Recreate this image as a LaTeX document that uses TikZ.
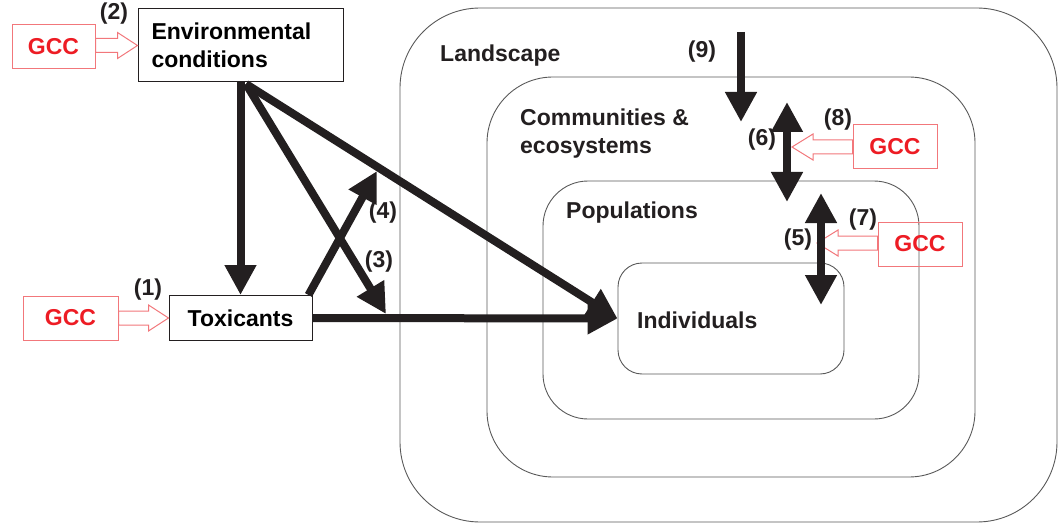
\documentclass[tikz,border=0pt]{standalone}
\usepackage{fontspec}
\setmainfont{Liberation Sans}
\usetikzlibrary{arrows.meta,calc}

\definecolor{ink}{HTML}{231F20}
\definecolor{gccred}{HTML}{ED1C24}
\definecolor{gccedge}{HTML}{F2777B}

\tikzset{
  region/.style={draw=black!65, line width=0.9pt, rounded corners=#1, inner sep=0pt},
  plainbox/.style={draw=ink, line width=1pt, inner sep=0pt},
  gccbox/.style={draw=gccedge, line width=1pt, text=gccred, minimum width=84pt,
    minimum height=44pt, inner sep=0pt},
  gccline/.style={draw=gccedge, fill=white, line width=1pt, line join=miter},
  effect/.style={draw=ink, line width=8pt, -{Triangle[length=30pt,width=30pt]}},
  mutual/.style={effect, {Triangle[length=30pt,width=30pt]}-{Triangle[length=30pt,width=30pt]}},
  tag/.style={text=ink, inner sep=0pt},
}

% hollow GCC arrow: start anchor, tip, offset of the head base
\newcommand{\gccpush}[3]{%
  \draw[gccline] ($(#1 |- #2)+(0,-7)$) -- ($(#2)+(#3,-7)$) -- ($(#2)+(#3,-13)$)
    -- (#2) -- ($(#2)+(#3,13)$) -- ($(#2)+(#3,7)$) -- ($(#1 |- #2)+(0,7)$) -- cycle;}

\begin{document}
\begin{tikzpicture}[x=1pt, y=-1pt, font=\fontsize{23}{28}\selectfont\bfseries]
\useasboundingbox (0,0) rectangle (1058,524);

% nested levels of organisation
\node[region=80pt, minimum width=657pt, minimum height=514pt] (land) at (728.5,265) {};
\node[region=66pt, minimum width=488pt, minimum height=400pt] (comm) at (731,277) {};
\node[region=45pt, minimum width=376pt, minimum height=238pt] (pop) at (731,300) {};
\node[region=24pt, minimum width=226pt, minimum height=111pt] (indiv) at (731,318.5) {};
\node[tag, anchor=west] (landtxt) at (440,56) {Landscape};
\node[tag, anchor=west, align=left] (commtxt) at (520,134) {Communities \&\\ecosystems};
\node[tag, anchor=west] (poptxt) at (566,213) {Populations};
\node[tag, anchor=west] (indivtxt) at (637,320) {Individuals};

% stressors
\node[plainbox, minimum width=205pt, minimum height=73pt, text width=178pt, align=left]
  (env) at (240.5,45.5) {Environmental\\conditions};
\node[plainbox, minimum width=143pt, minimum height=45pt] (tox) at (240.5,318) {Toxicants};

% global climate change inputs
\node[gccbox, minimum width=83pt] (gcc2) at (53.5,46.5) {GCC};
\node[gccbox, minimum width=95pt] (gcc1) at (70.5,318) {GCC};
\node[gccbox] (gcc8) at (895,146.5) {GCC};
\node[gccbox] (gcc7) at (920,244) {GCC};
\coordinate (hit8) at (792,147);
\coordinate (hit7) at (817,243);
\gccpush{gcc2.east}{env.west}{-20}
\gccpush{gcc1.east}{tox.west}{-20}
\gccpush{gcc8.west}{hit8}{21}
\gccpush{gcc7.west}{hit7}{21}

% direct and indirect effects
\coordinate (envfoot) at (246,84);
\coordinate (hit3) at (386,314);
\coordinate (hit4) at (377,171);
\draw[effect] (env.south) -- (tox.north);
\draw[effect] (envfoot) -- (indiv.west);
\draw[effect] (envfoot) -- (hit3);
\draw[effect] ($(tox.north east)+(-4,0)$) -- (hit4);
\draw[effect] (tox.east) -- (indiv.west);

% links between levels
\coordinate (top9) at (741,32);
\coordinate (hit9) at (741,122);
\coordinate (a6) at (787,102);
\coordinate (b6) at (787,202);
\coordinate (a5) at (821,193);
\coordinate (b5) at (821,305);
\draw[effect] (top9) -- (hit9);
\draw[mutual] (a6) -- (b6);
\draw[mutual] (a5) -- (b5);

% numbers
\node[tag] (n1) at (148,290) {(1)};
\node[tag] (n2) at (114,14) {(2)};
\node[tag] (n3) at (379,262) {(3)};
\node[tag] (n4) at (383,213) {(4)};
\node[tag] (n5) at (798,240) {(5)};
\node[tag] (n6) at (762,140) {(6)};
\node[tag] (n7) at (863,220) {(7)};
\node[tag] (n8) at (838,120) {(8)};
\node[tag] (n9) at (702,52) {(9)};
\end{tikzpicture}
\end{document}
